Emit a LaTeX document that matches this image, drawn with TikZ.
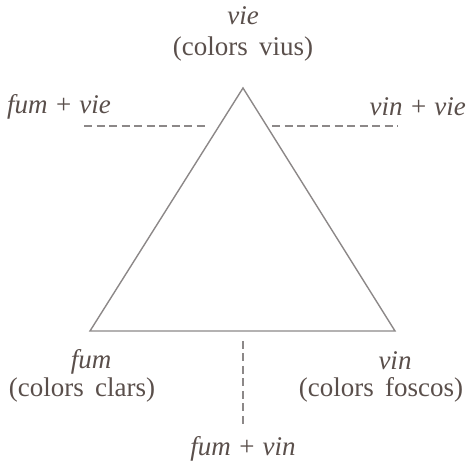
\documentclass[tikz,border=0pt]{standalone}
\usepackage{fontspec}
\setmainfont{Liberation Serif}
\definecolor{ink}{HTML}{5A4F4B}
\definecolor{edge}{HTML}{8C8888}
\begin{document}
\begin{tikzpicture}[x=1pt,y=-1pt,
  lbl/.style={text=ink,font=\fontsize{27}{30}\selectfont,inner sep=0pt},
  tri/.style={draw=edge,line width=1.4pt,line join=miter},
  dashline/.style={draw=edge,line width=1.3pt,dash pattern=on 8pt off 4.5pt}]
\useasboundingbox (0,0) rectangle (469,462);
\coordinate (A) at (243,88);
\coordinate (L) at (90,331);
\coordinate (R) at (395,331);
\draw[tri] (A) -- (R) -- (L) -- cycle;
\coordinate (d1a) at (84,126);
\coordinate (d1b) at (208,126);
\coordinate (d2a) at (272,126);
\coordinate (d2b) at (398,126);
\coordinate (d3a) at (243,341);
\coordinate (d3b) at (243,427);
\draw[dashline] (d1a) -- (d1b);
\draw[dashline] (d2a) -- (d2b);
\draw[dashline] (d3a) -- (d3b);
\node[lbl] (vie) at (243,16) {\itshape vie};
\node[lbl] (vius) at (243,49) {(colors\, vius)};
\node[lbl,anchor=west] (fv) at (7,107) {\itshape fum + vie};
\node[lbl,anchor=east] (vv) at (466,107) {\itshape vin + vie};
\node[lbl] (fum) at (91,362) {\itshape fum};
\node[lbl] (clars) at (82,390) {(colors\, clars)};
\node[lbl] (vin) at (395,361) {\itshape vin};
\node[lbl] (foscos) at (381,390) {(colors\, foscos)};
\node[lbl] (fvin) at (243,449) {\itshape fum + vin};
\end{tikzpicture}
\end{document}
